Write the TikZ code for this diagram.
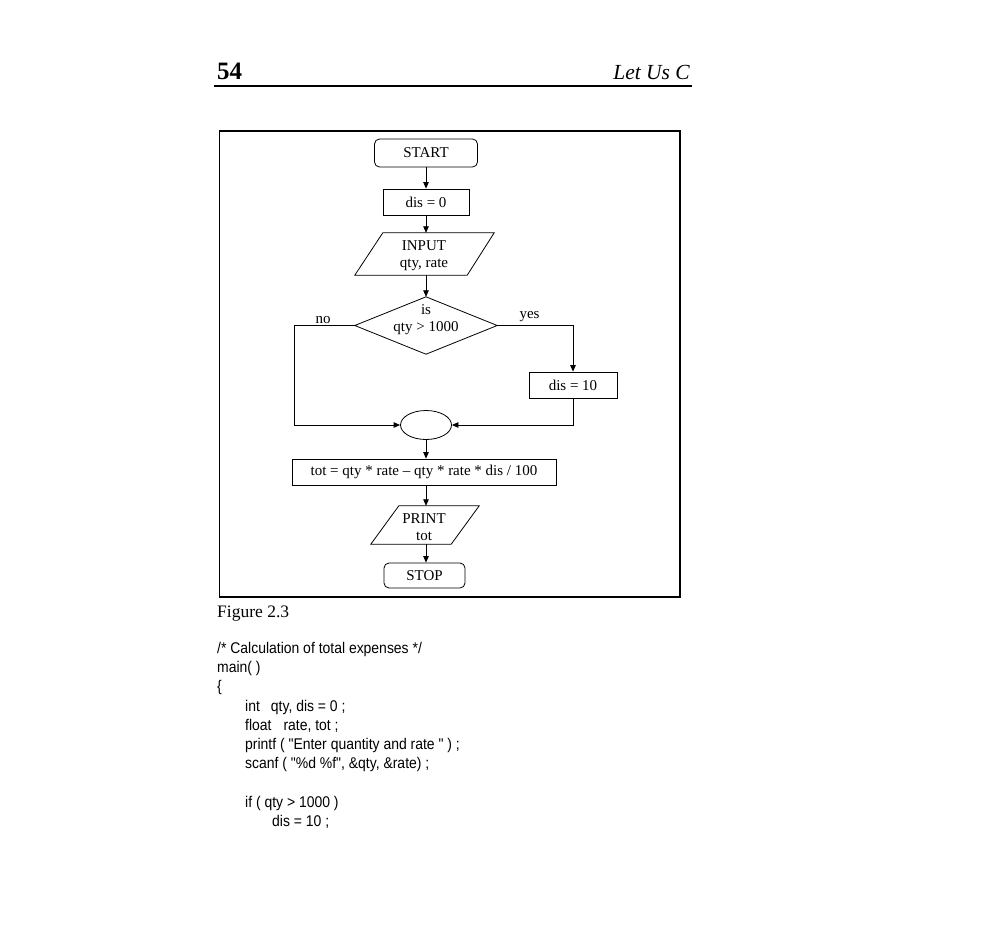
\documentclass[tikz,border=0pt]{standalone}
\usepackage{fontspec}
\setmainfont{Liberation Serif}
\newfontfamily\codefont{Liberation Sans}[Ligatures=TeXOff,FakeStretch=0.9]
\usetikzlibrary{arrows.meta,calc,shapes.geometric}
\begin{document}
\begin{tikzpicture}[x=1pt,y=-1pt,
  line/.style={line width=0.8pt},
  flow/.style={line width=0.8pt,-{Triangle[length=6.5pt,width=5.5pt]}},
  txt/.style={inner sep=0pt,font=\fontsize{15}{17}\selectfont,align=center},
  box/.style={txt,draw,line width=0.8pt},
  term/.style={box,rounded corners=5pt},
  code/.style={anchor=base west,inner sep=0pt,font=\codefont\fontsize{15.5}{17}\selectfont}]
\useasboundingbox (0,0) rectangle (1000,938);

% running head
\node[anchor=base west,inner sep=0pt,font=\bfseries\fontsize{25}{25}\selectfont] (pageno) at (217,79) {54};
\node[anchor=base east,inner sep=0pt,font=\itshape\fontsize{21.5}{22}\selectfont] (booktitle) at (690,79) {Let Us C};
\draw[line width=1.3pt] (214,86) -- (692,86);

% figure frame
\draw[line width=1.2pt] (219.5,131) rectangle (680,597);

% flowchart
\node[term,minimum width=103,minimum height=28] (start) at (426,153) {START};
\node[box,minimum width=86,minimum height=26] (d0) at (426,202) {dis = 0};
\node[txt,minimum width=139,minimum height=42] (in) at (424.5,254) {};
\draw[line] (in.south west) -- ([xshift=-27]in.south east) -- (in.north east) -- ([xshift=28]in.north west) -- cycle;
\node[txt] (int) at (424,256) {INPUT\\qty, rate};

\node[txt,minimum width=142,minimum height=57] (q) at (426,325.5) {};
\draw[line] (q.north) -- (q.east) -- (q.south) -- (q.west) -- cycle;
\node[txt] (qt) at (426,320) {is\\qty > 1000};

\node[box,minimum width=88,minimum height=26] (d10) at (573,385) {dis = 10};
\node[draw,line,ellipse,inner sep=0pt,minimum width=51,minimum height=29] (join) at (426,425) {};
\node[box,minimum width=264,minimum height=26] (tot) at (424,472) {tot = qty * rate – qty * rate * dis / 100};
\node[txt,minimum width=108,minimum height=38] (out) at (425,525) {};
\draw[line] (out.south west) -- ([xshift=-28]out.south east) -- (out.north east) -- ([xshift=28]out.north west) -- cycle;
\node[txt] (outt) at (424,527) {PRINT\\tot};
\node[term,minimum width=81,minimum height=25] (stop) at (424.5,575.5) {STOP};

\coordinate (nocorner) at (294,325.5);
\node[txt] (nolbl) at (323,320) {no};
\node[txt] (yeslbl) at (529.5,317) {yes};

\draw[flow] (start) -- (d0);
\draw[flow] (d0.south) -- (d0.south |- in.north);
\draw[flow] (d0.south |- in.south) -- (q.north);
\draw[flow] (q.east) -| (d10.north);
\draw[flow] (q.west) -- (nocorner) |- (join.west);
\draw[flow] (d10.south) |- (join.east);
\draw[flow] (join.south) -- (join.south |- tot.north);
\draw[flow] (join.south |- tot.south) -- (join.south |- out.north);
\draw[flow] (join.south |- out.south) -- (join.south |- stop.north);

% caption and listing
\node[anchor=base west,inner sep=0pt,font=\fontsize{17.5}{18}\selectfont] (cap) at (217,617) {Figure 2.3};
\node[code] (l1) at (217,653) {/* Calculation of total expenses */};
\node[code] (l2) at (217,672) {main( )};
\node[code] (l3) at (217,691) {\{};
\node[code] (l4) at (245,711) {int\hspace{11pt}qty, dis = 0 ;};
\node[code] (l5) at (245,730) {float\hspace{12pt}rate, tot ;};
\node[code] (l6) at (245,749) {printf ( "Enter quantity and rate " ) ;};
\node[code] (l7) at (245,768) {scanf ( "\%d \%f", \&qty, \&rate) ;};
\node[code] (l8) at (245,807) {if ( qty > 1000 )};
\node[code] (l9) at (272,826) {dis = 10 ;};
\end{tikzpicture}
\end{document}
